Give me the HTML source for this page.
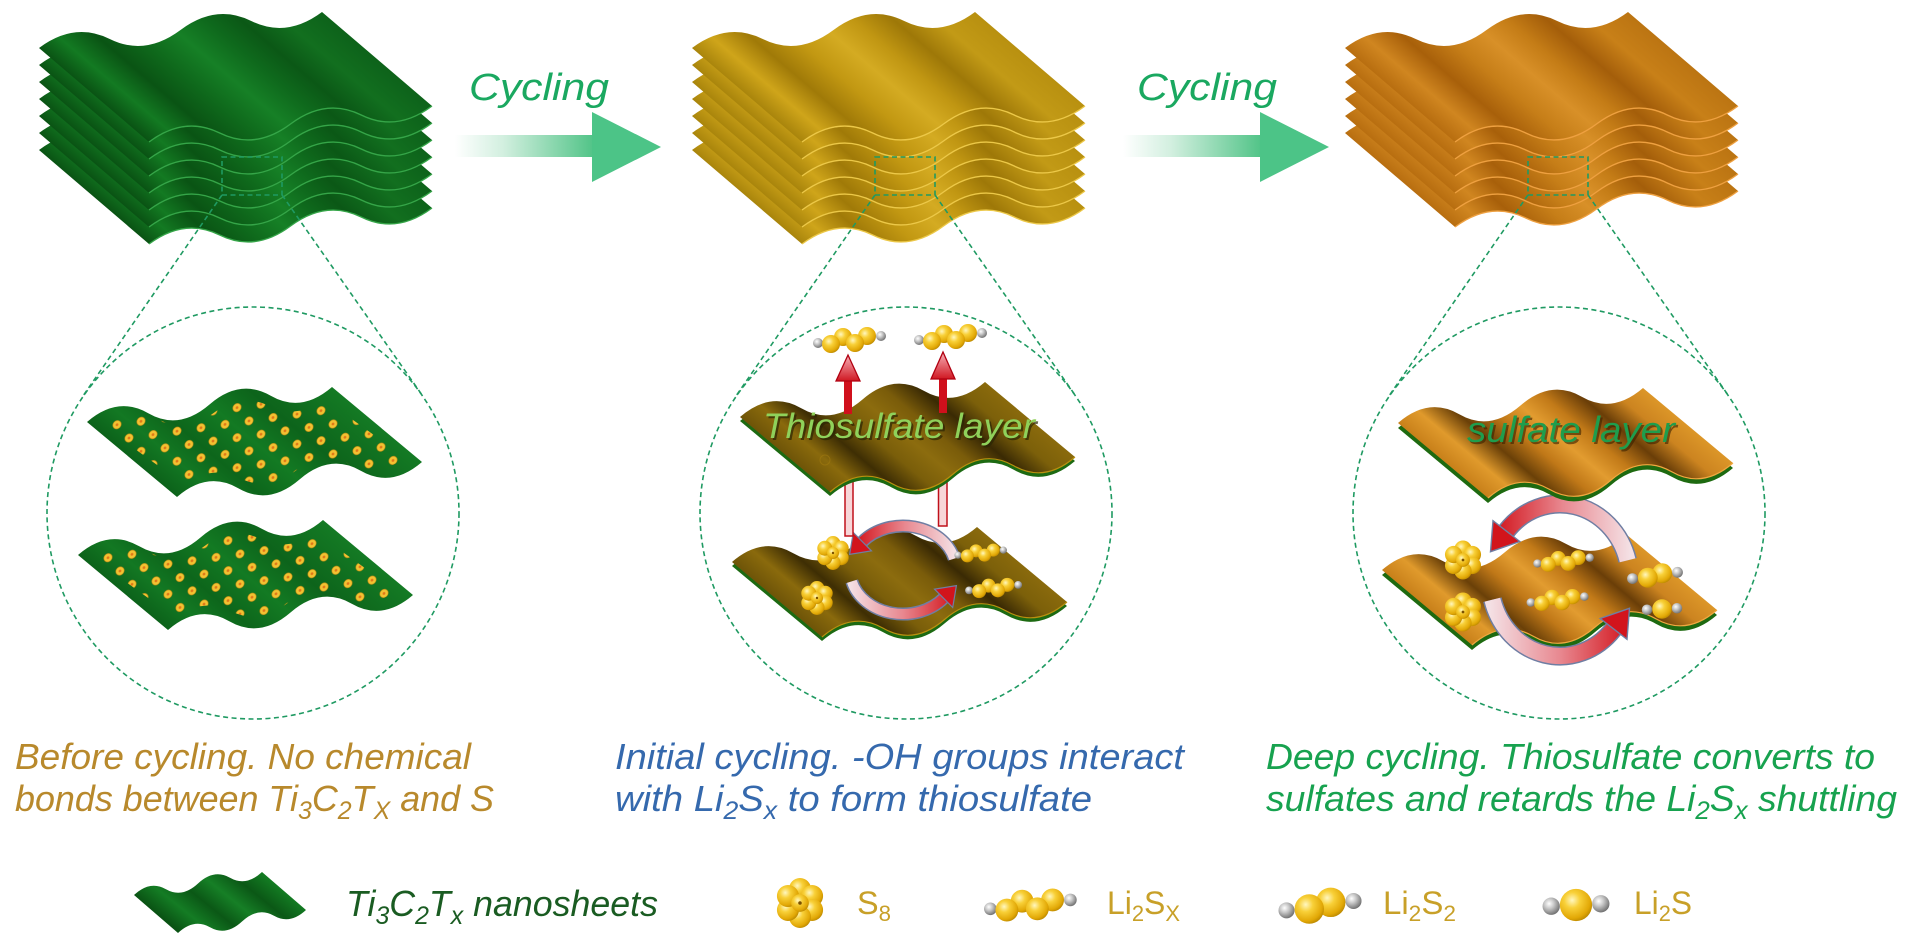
<!DOCTYPE html>
<html><head><meta charset="utf-8"><style>
html,body{margin:0;padding:0;background:#fff;}
svg{display:block;}
text{font-family:"Liberation Sans",sans-serif;}
</style></head><body>
<svg width="1920" height="943" viewBox="0 0 1920 943" xmlns="http://www.w3.org/2000/svg">
<defs>
  <!-- stack sheet -->
  <path id="ss" d="M0,0 Q35.4,-26.5 70.75,-9 T141.5,-18 T212.25,-27 T283,-36 L393,58 Q357.6,84.5 322.25,67 T251.5,76 T180.75,85 T110,94 Z"/>
  <path id="sf" d="M393,58 Q357.6,84.5 322.25,67 T251.5,76 T180.75,85 T110,94" fill="none"/>
  <!-- circle sheet -->
  <path id="cs" d="M0,0 Q30.6,-26.4 61.25,-8.75 T122.5,-17.5 T183.75,-26.25 T245,-35 L335,40 Q304.4,66.4 273.75,48.75 T212.5,57.5 T151.25,66.25 T90,75 Z"/>
  <path id="csf" d="M335,40 Q304.4,66.4 273.75,48.75 T212.5,57.5 T151.25,66.25 T90,75" fill="none"/>
  <!-- legend sheet -->
  <path id="ls" d="M0,0 Q16,-14.9 32,-5.75 T64,-11.5 T96,-17.25 T128,-23 L172,15 Q156,29.9 140,20.75 T108,26.5 T76,32.25 T44,38 Z"/>

  <clipPath id="dc" clipPathUnits="userSpaceOnUse">
    <use href="#cs" transform="translate(167,20) scale(.9,.78) translate(-167,-20)"/>
  </clipPath>

  <linearGradient id="gG" gradientUnits="userSpaceOnUse" x1="0" y1="0" x2="137" y2="-161">
    <stop offset="0" stop-color="#0a5314"/><stop offset=".1" stop-color="#137a22"/>
    <stop offset=".22" stop-color="#0a5414"/><stop offset=".35" stop-color="#0f6a1c"/>
    <stop offset=".48" stop-color="#168026"/><stop offset=".6" stop-color="#0f6b1d"/>
    <stop offset=".72" stop-color="#0b5816"/><stop offset=".85" stop-color="#126f1f"/>
    <stop offset="1" stop-color="#0d621a"/>
  </linearGradient>
  <linearGradient id="gY" gradientUnits="userSpaceOnUse" x1="0" y1="0" x2="137" y2="-161">
    <stop offset="0" stop-color="#a9850c"/><stop offset=".1" stop-color="#cfa51a"/>
    <stop offset=".22" stop-color="#a07a08"/><stop offset=".35" stop-color="#c29812"/>
    <stop offset=".48" stop-color="#d4ab22"/><stop offset=".6" stop-color="#c09612"/>
    <stop offset=".72" stop-color="#9e7808"/><stop offset=".85" stop-color="#c29a16"/>
    <stop offset="1" stop-color="#b89010"/>
  </linearGradient>
  <linearGradient id="gO" gradientUnits="userSpaceOnUse" x1="0" y1="0" x2="137" y2="-161">
    <stop offset="0" stop-color="#b86e10"/><stop offset=".1" stop-color="#d08620"/>
    <stop offset=".22" stop-color="#a8600a"/><stop offset=".35" stop-color="#c67e18"/>
    <stop offset=".48" stop-color="#d89028"/><stop offset=".6" stop-color="#c47c16"/>
    <stop offset=".72" stop-color="#a45e0a"/><stop offset=".85" stop-color="#c88018"/>
    <stop offset="1" stop-color="#bb7412"/>
  </linearGradient>
  <linearGradient id="cG" gradientUnits="userSpaceOnUse" x1="0" y1="0" x2="118" y2="-141">
    <stop offset="0" stop-color="#0c621a"/><stop offset=".15" stop-color="#137823"/>
    <stop offset=".3" stop-color="#0d661b"/><stop offset=".5" stop-color="#137a23"/>
    <stop offset=".7" stop-color="#0d641b"/><stop offset="1" stop-color="#147a24"/>
  </linearGradient>
  <linearGradient id="cY" gradientUnits="userSpaceOnUse" x1="0" y1="0" x2="118" y2="-141">
    <stop offset="0" stop-color="#6e5408"/><stop offset=".12" stop-color="#8a6a0c"/>
    <stop offset=".25" stop-color="#3e2e04"/><stop offset=".38" stop-color="#7a5e0a"/>
    <stop offset=".5" stop-color="#8c6c0e"/><stop offset=".62" stop-color="#7a5c0a"/>
    <stop offset=".75" stop-color="#3a2a04"/><stop offset=".88" stop-color="#7c600a"/>
    <stop offset="1" stop-color="#8a6a0c"/>
  </linearGradient>
  <linearGradient id="cO" gradientUnits="userSpaceOnUse" x1="0" y1="0" x2="118" y2="-141">
    <stop offset="0" stop-color="#c8801a"/><stop offset=".12" stop-color="#e09a2c"/>
    <stop offset=".25" stop-color="#6a4008"/><stop offset=".38" stop-color="#c07818"/>
    <stop offset=".5" stop-color="#e29c30"/><stop offset=".62" stop-color="#c27a18"/>
    <stop offset=".75" stop-color="#6a3e08"/><stop offset=".88" stop-color="#cc8420"/>
    <stop offset="1" stop-color="#dc9628"/>
  </linearGradient>
  <linearGradient id="lg" gradientUnits="userSpaceOnUse" x1="0" y1="0" x2="60" y2="-75">
    <stop offset="0" stop-color="#0a5314"/><stop offset=".2" stop-color="#147c24"/>
    <stop offset=".4" stop-color="#0b5816"/><stop offset=".6" stop-color="#167f26"/>
    <stop offset=".8" stop-color="#0b5816"/><stop offset="1" stop-color="#137a22"/>
  </linearGradient>

  <linearGradient id="arrBar" x1="0" y1="0" x2="1" y2="0">
    <stop offset="0" stop-color="#ffffff"/><stop offset=".35" stop-color="#d2efdf"/>
    <stop offset="1" stop-color="#52c488"/>
  </linearGradient>

  <radialGradient id="yb" cx=".38" cy=".35" r=".7">
    <stop offset="0" stop-color="#fff7c0"/><stop offset=".35" stop-color="#f8d038"/>
    <stop offset=".8" stop-color="#e2a806"/><stop offset="1" stop-color="#b88600"/>
  </radialGradient>
  <radialGradient id="gb" cx=".38" cy=".35" r=".7">
    <stop offset="0" stop-color="#ffffff"/><stop offset=".4" stop-color="#c8c8c8"/>
    <stop offset="1" stop-color="#6a6a6a"/>
  </radialGradient>

  <pattern id="dots" patternUnits="userSpaceOnUse" width="24" height="30" patternTransform="skewY(-8.1)">
    <circle cx="6" cy="7" r="4.2" fill="#f2c232" stroke="#c08a10" stroke-width=".6"/>
    <circle cx="6" cy="7" r="1.4" fill="#e07818"/>
    <circle cx="18" cy="22" r="4.2" fill="#f2c232" stroke="#c08a10" stroke-width=".6"/>
    <circle cx="18" cy="22" r="1.4" fill="#e07818"/>
  </pattern>

  <g id="lisx">
    <circle cx="-32" cy="3" r="5" fill="url(#gb)"/>
    <circle cx="31" cy="-4" r="5" fill="url(#gb)"/>
    <circle cx="-7" cy="-3" r="9" fill="url(#yb)"/>
    <circle cx="17" cy="-4" r="9" fill="url(#yb)"/>
    <circle cx="5" cy="3" r="9" fill="url(#yb)"/>
    <circle cx="-19" cy="4" r="9" fill="url(#yb)"/>
  </g>
  <g id="lis2">
    <circle cx="-25" cy="4" r="6" fill="url(#gb)"/>
    <circle cx="25" cy="-3" r="6" fill="url(#gb)"/>
    <circle cx="8" cy="-2" r="11" fill="url(#yb)"/>
    <circle cx="-8" cy="3" r="11" fill="url(#yb)"/>
  </g>
  <g id="lis">
    <circle cx="-20" cy="1" r="7" fill="url(#gb)"/>
    <circle cx="20" cy="-1" r="7" fill="url(#gb)"/>
    <circle cx="0" cy="0" r="13" fill="url(#yb)"/>
  </g>
  <g id="s8">
    <circle cx="0" cy="-9.5" r="7.5" fill="url(#yb)"/>
    <circle cx="8.2" cy="-4.75" r="7.5" fill="url(#yb)"/>
    <circle cx="8.2" cy="4.75" r="7.5" fill="url(#yb)"/>
    <circle cx="0" cy="9.5" r="7.5" fill="url(#yb)"/>
    <circle cx="-8.2" cy="4.75" r="7.5" fill="url(#yb)"/>
    <circle cx="-8.2" cy="-4.75" r="7.5" fill="url(#yb)"/>
    <circle cx="0" cy="0" r="6" fill="url(#yb)"/>
    <circle cx="0" cy="0" r="1.2" fill="#7a5000"/>
  </g>

  <linearGradient id="ca1" gradientUnits="userSpaceOnUse" x1="955" y1="0" x2="855" y2="0">
    <stop offset="0" stop-color="#f4e0e4"/><stop offset=".5" stop-color="#e88890"/><stop offset="1" stop-color="#d2141c"/>
  </linearGradient>
  <linearGradient id="ca2" gradientUnits="userSpaceOnUse" x1="850" y1="0" x2="955" y2="0">
    <stop offset="0" stop-color="#f4e0e4"/><stop offset=".5" stop-color="#e88890"/><stop offset="1" stop-color="#d2141c"/>
  </linearGradient>
  <linearGradient id="cb1" gradientUnits="userSpaceOnUse" x1="1630" y1="0" x2="1495" y2="0">
    <stop offset="0" stop-color="#f4e0e4"/><stop offset=".5" stop-color="#e88890"/><stop offset="1" stop-color="#d2141c"/>
  </linearGradient>
  <linearGradient id="cb2" gradientUnits="userSpaceOnUse" x1="1490" y1="0" x2="1630" y2="0">
    <stop offset="0" stop-color="#f4e0e4"/><stop offset=".5" stop-color="#e88890"/><stop offset="1" stop-color="#d2141c"/>
  </linearGradient>
  <linearGradient id="upHead" x1="0" y1="0" x2="0" y2="1">
    <stop offset="0" stop-color="#f7b0b8"/><stop offset="1" stop-color="#d01822"/>
  </linearGradient>
</defs>

<rect width="1920" height="943" fill="#fff"/>

<!-- ===== LEFT STACK (green) ===== -->
<g stroke="#35a548" stroke-width="1.4">
  <g transform="translate(39,150)"><use href="#ss" fill="url(#gG)" stroke="none"/><use href="#sf"/></g>
  <g transform="translate(39,133)"><use href="#ss" fill="url(#gG)" stroke="none"/><use href="#sf"/></g>
  <g transform="translate(39,116)"><use href="#ss" fill="url(#gG)" stroke="none"/><use href="#sf"/></g>
  <g transform="translate(39,99)"><use href="#ss" fill="url(#gG)" stroke="none"/><use href="#sf"/></g>
  <g transform="translate(39,82)"><use href="#ss" fill="url(#gG)" stroke="none"/><use href="#sf"/></g>
  <g transform="translate(39,65)"><use href="#ss" fill="url(#gG)" stroke="none"/><use href="#sf"/></g>
  <g transform="translate(39,48)"><use href="#ss" fill="url(#gG)" stroke="none"/><use href="#sf"/></g>
</g>

<!-- ===== MIDDLE STACK (gold) ===== -->
<g stroke="#ecc848" stroke-width="1.4">
  <g transform="translate(692,150)"><use href="#ss" fill="url(#gY)" stroke="none"/><use href="#sf"/></g>
  <g transform="translate(692,133)"><use href="#ss" fill="url(#gY)" stroke="none"/><use href="#sf"/></g>
  <g transform="translate(692,116)"><use href="#ss" fill="url(#gY)" stroke="none"/><use href="#sf"/></g>
  <g transform="translate(692,99)"><use href="#ss" fill="url(#gY)" stroke="none"/><use href="#sf"/></g>
  <g transform="translate(692,82)"><use href="#ss" fill="url(#gY)" stroke="none"/><use href="#sf"/></g>
  <g transform="translate(692,65)"><use href="#ss" fill="url(#gY)" stroke="none"/><use href="#sf"/></g>
  <g transform="translate(692,48)"><use href="#ss" fill="url(#gY)" stroke="none"/><use href="#sf"/></g>
</g>

<!-- ===== RIGHT STACK (orange) ===== -->
<g stroke="#eea040" stroke-width="1.4">
  <g transform="translate(1345,133)"><use href="#ss" fill="url(#gO)" stroke="none"/><use href="#sf"/></g>
  <g transform="translate(1345,116)"><use href="#ss" fill="url(#gO)" stroke="none"/><use href="#sf"/></g>
  <g transform="translate(1345,99)"><use href="#ss" fill="url(#gO)" stroke="none"/><use href="#sf"/></g>
  <g transform="translate(1345,82)"><use href="#ss" fill="url(#gO)" stroke="none"/><use href="#sf"/></g>
  <g transform="translate(1345,65)"><use href="#ss" fill="url(#gO)" stroke="none"/><use href="#sf"/></g>
  <g transform="translate(1345,48)"><use href="#ss" fill="url(#gO)" stroke="none"/><use href="#sf"/></g>
</g>

<!-- ===== Cycling arrows ===== -->
<text x="469" y="100" font-size="38" font-style="italic" fill="#1aa860" textLength="140" lengthAdjust="spacingAndGlyphs">Cycling</text>
<rect x="455" y="135" width="138" height="22" fill="url(#arrBar)"/>
<polygon points="592,112 661,147 592,182" fill="#4cc487"/>

<text x="1137" y="100" font-size="38" font-style="italic" fill="#1aa860" textLength="140" lengthAdjust="spacingAndGlyphs">Cycling</text>
<rect x="1123" y="135" width="138" height="22" fill="url(#arrBar)"/>
<polygon points="1260,112 1329,147 1260,182" fill="#4cc487"/>

<!-- ===== dashed zoom indicators ===== -->
<g fill="none" stroke="#1f9a62" stroke-width="1.6" stroke-dasharray="5 3.5">
  <rect x="222" y="157" width="60" height="38"/>
  <line x1="222" y1="195" x2="83" y2="396"/>
  <line x1="282" y1="195" x2="422" y2="395"/>
  <circle cx="253" cy="513" r="206"/>

  <rect x="875" y="157" width="60" height="38"/>
  <line x1="875" y1="195" x2="736" y2="396"/>
  <line x1="935" y1="195" x2="1075" y2="395"/>
  <circle cx="906" cy="513" r="206"/>

  <rect x="1528" y="157" width="60" height="38"/>
  <line x1="1528" y1="195" x2="1389" y2="396"/>
  <line x1="1588" y1="195" x2="1728" y2="395"/>
  <circle cx="1559" cy="513" r="206"/>
</g>

<!-- ===== LEFT CIRCLE CONTENT ===== -->
<g transform="translate(87,422)">
  <use href="#cs" fill="url(#cG)"/>
  <use href="#cs" fill="url(#dots)" clip-path="url(#dc)"/>
</g>
<g transform="translate(78,555)">
  <use href="#cs" fill="url(#cG)"/>
  <use href="#cs" fill="url(#dots)" clip-path="url(#dc)"/>
</g>

<!-- ===== MIDDLE CIRCLE CONTENT ===== -->
<!-- lower sheet -->
<g transform="translate(732,566)"><use href="#cs" fill="#1d6a12"/></g>
<g transform="translate(732,562)"><use href="#cs" fill="url(#cY)"/><use href="#csf" stroke="#b8900f" stroke-width="1.2"/></g>
<!-- circular arrows -->
<g fill="none" stroke-linecap="butt">
  <path d="M954.2,558.6 A53,44 0 0 0 862.4,541.7" stroke="#6f7ea3" stroke-width="13"/>
  <path d="M954.2,558.6 A53,44 0 0 0 862.4,541.7" stroke="url(#ca1)" stroke-width="10"/>
</g>
<polygon points="871.5,550.9 853.3,532.5 849.6,554.4" fill="#d2141c" stroke="#6f7ea3" stroke-width="1.2"/>
<!-- molecules on lower sheet -->
<use href="#s8" transform="translate(833,553)"/>
<use href="#s8" transform="translate(817,598)"/>
<use href="#lisx" transform="translate(981,553) scale(.72)"/>
<use href="#lisx" transform="translate(994,588) scale(.78)"/>
<g fill="none">
  <path d="M851.8,581.4 A53,44 0 0 0 943.6,598.3" stroke="#6f7ea3" stroke-width="13"/>
  <path d="M851.8,581.4 A53,44 0 0 0 943.6,598.3" stroke="url(#ca2)" stroke-width="10"/>
</g>
<polygon points="952.7,607.5 934.5,589.1 956.4,585.6" fill="#d2141c" stroke="#6f7ea3" stroke-width="1.2"/>
<!-- hollow vertical arrows between sheets -->
<rect x="845" y="475" width="8" height="61" fill="#f7d6d8" stroke="#c0101a" stroke-width="1.5"/>
<rect x="938.5" y="462" width="8.5" height="64" fill="#f7d6d8" stroke="#c0101a" stroke-width="1.5"/>
<!-- upper sheet -->
<g transform="translate(740,421)"><use href="#cs" fill="#1d6a12"/></g>
<g transform="translate(740,417)"><use href="#cs" fill="url(#cY)"/><use href="#csf" stroke="#b8900f" stroke-width="1.2"/></g>
<circle cx="825" cy="460" r="5" fill="none" stroke="#a07a10" stroke-width="1" opacity=".6"/>
<!-- up arrows -->
<rect x="844" y="379" width="8" height="35" fill="#d0101c"/>
<polygon points="836,381 848,355 860,381" fill="url(#upHead)" stroke="#b00010" stroke-width="1.3"/>
<rect x="939" y="377" width="8" height="36" fill="#d0101c"/>
<polygon points="931,379 943,352 955,379" fill="url(#upHead)" stroke="#b00010" stroke-width="1.3"/>
<use href="#lisx" transform="translate(850,340)"/>
<use href="#lisx" transform="translate(951,337)"/>
<text x="765" y="440" font-size="35" font-style="italic" fill="#2a2604" opacity=".7" textLength="272" lengthAdjust="spacingAndGlyphs">Thiosulfate layer</text>
<text x="763" y="438" font-size="35" font-style="italic" fill="#8fd15a" textLength="272" lengthAdjust="spacingAndGlyphs">Thiosulfate layer</text>

<!-- ===== RIGHT CIRCLE CONTENT ===== -->
<g transform="translate(1382,575)"><use href="#cs" fill="#1e6a10"/></g>
<g transform="translate(1382,570)"><use href="#cs" fill="url(#cO)"/><use href="#csf" stroke="#f0a840" stroke-width="1.2"/></g>
<g fill="none">
  <path d="M1627.6,560.3 A70,76 0 0 0 1506.4,531.1" stroke="#6f7ea3" stroke-width="19"/>
  <path d="M1627.6,560.3 A70,76 0 0 0 1506.4,531.1" stroke="url(#cb1)" stroke-width="16"/>
</g>
<polygon points="1519.8,541.5 1493,520.7 1490.5,551.7" fill="#d2141c" stroke="#6f7ea3" stroke-width="1.4"/>
<use href="#s8" transform="translate(1463,560) scale(1.15)"/>
<use href="#s8" transform="translate(1463,612) scale(1.15)"/>
<use href="#lisx" transform="translate(1564,561) scale(.83)"/>
<use href="#lisx" transform="translate(1558,600) scale(.85)"/>
<use href="#lis2" transform="translate(1655,575) scale(.9)"/>
<use href="#lis" transform="translate(1662,609) scale(.75)"/>
<g fill="none">
  <path d="M1492.4,599.7 A70,76 0 0 0 1613.6,628.9" stroke="#6f7ea3" stroke-width="19"/>
  <path d="M1492.4,599.7 A70,76 0 0 0 1613.6,628.9" stroke="url(#cb2)" stroke-width="16"/>
</g>
<polygon points="1627,639.3 1600.2,618.5 1629.5,608.3" fill="#d2141c" stroke="#6f7ea3" stroke-width="1.4"/>
<!-- upper sheet -->
<g transform="translate(1398,428)"><use href="#cs" fill="#1e6a10"/></g>
<g transform="translate(1398,423)"><use href="#cs" fill="url(#cO)"/><use href="#csf" stroke="#f0a840" stroke-width="1.2"/></g>
<text x="1469" y="444" font-size="36" font-style="italic" fill="#3a2200" opacity=".6" textLength="208" lengthAdjust="spacingAndGlyphs">sulfate layer</text>
<text x="1467" y="442" font-size="36" font-style="italic" fill="#1f9d4d" textLength="208" lengthAdjust="spacingAndGlyphs">sulfate layer</text>

<!-- ===== Description texts ===== -->
<g font-size="36" font-style="italic">
  <text x="15" y="769" fill="#b8892c" textLength="456" lengthAdjust="spacingAndGlyphs">Before cycling. No chemical</text>
  <text x="15" y="811" fill="#b8892c" textLength="479" lengthAdjust="spacingAndGlyphs">bonds between Ti<tspan font-size="25" dy="8">3</tspan><tspan dy="-8">C</tspan><tspan font-size="25" dy="8">2</tspan><tspan dy="-8">T</tspan><tspan font-size="25" dy="8">X</tspan><tspan dy="-8"> and S</tspan></text>

  <text x="615" y="769" fill="#3569ad" textLength="569" lengthAdjust="spacingAndGlyphs">Initial cycling. -OH groups interact</text>
  <text x="615" y="811" fill="#3569ad" textLength="477" lengthAdjust="spacingAndGlyphs">with Li<tspan font-size="25" dy="8">2</tspan><tspan dy="-8">S</tspan><tspan font-size="25" dy="8">x</tspan><tspan dy="-8"> to form thiosulfate</tspan></text>

  <text x="1266" y="769" fill="#17a24f" textLength="609" lengthAdjust="spacingAndGlyphs">Deep cycling. Thiosulfate converts to</text>
  <text x="1266" y="811" fill="#17a24f" textLength="631" lengthAdjust="spacingAndGlyphs">sulfates and retards the Li<tspan font-size="25" dy="8">2</tspan><tspan dy="-8">S</tspan><tspan font-size="25" dy="8">x</tspan><tspan dy="-8"> shuttling</tspan></text>
</g>

<!-- ===== Legend ===== -->
<g transform="translate(134,895)"><use href="#ls" fill="url(#lg)"/></g>
<text x="346" y="916" font-size="36" font-style="italic" fill="#1a5c22" textLength="312" lengthAdjust="spacingAndGlyphs">Ti<tspan font-size="25" dy="8">3</tspan><tspan dy="-8">C</tspan><tspan font-size="25" dy="8">2</tspan><tspan dy="-8">T</tspan><tspan font-size="25" dy="8">x</tspan><tspan dy="-8"> nanosheets</tspan></text>

<use href="#s8" transform="translate(800,903) scale(1.47)"/>
<text x="857" y="914" font-size="32" fill="#c8a028" textLength="34" lengthAdjust="spacingAndGlyphs">S<tspan font-size="22" dy="7">8</tspan></text>

<use href="#lisx" transform="translate(1031,905) scale(1.27)"/>
<text x="1107" y="914" font-size="32" fill="#c8a028" textLength="73" lengthAdjust="spacingAndGlyphs">Li<tspan font-size="22" dy="7">2</tspan><tspan dy="-7">S</tspan><tspan font-size="22" dy="7">X</tspan></text>

<use href="#lis2" transform="translate(1320,905) scale(1.34)"/>
<text x="1383" y="914" font-size="32" fill="#c8a028" textLength="73" lengthAdjust="spacingAndGlyphs">Li<tspan font-size="22" dy="7">2</tspan><tspan dy="-7">S</tspan><tspan font-size="22" dy="7">2</tspan></text>

<use href="#lis" transform="translate(1576,905) scale(1.24)"/>
<text x="1634" y="914" font-size="32" fill="#c8a028" textLength="58" lengthAdjust="spacingAndGlyphs">Li<tspan font-size="22" dy="7">2</tspan><tspan dy="-7">S</tspan></text>
</svg>
</body></html>
